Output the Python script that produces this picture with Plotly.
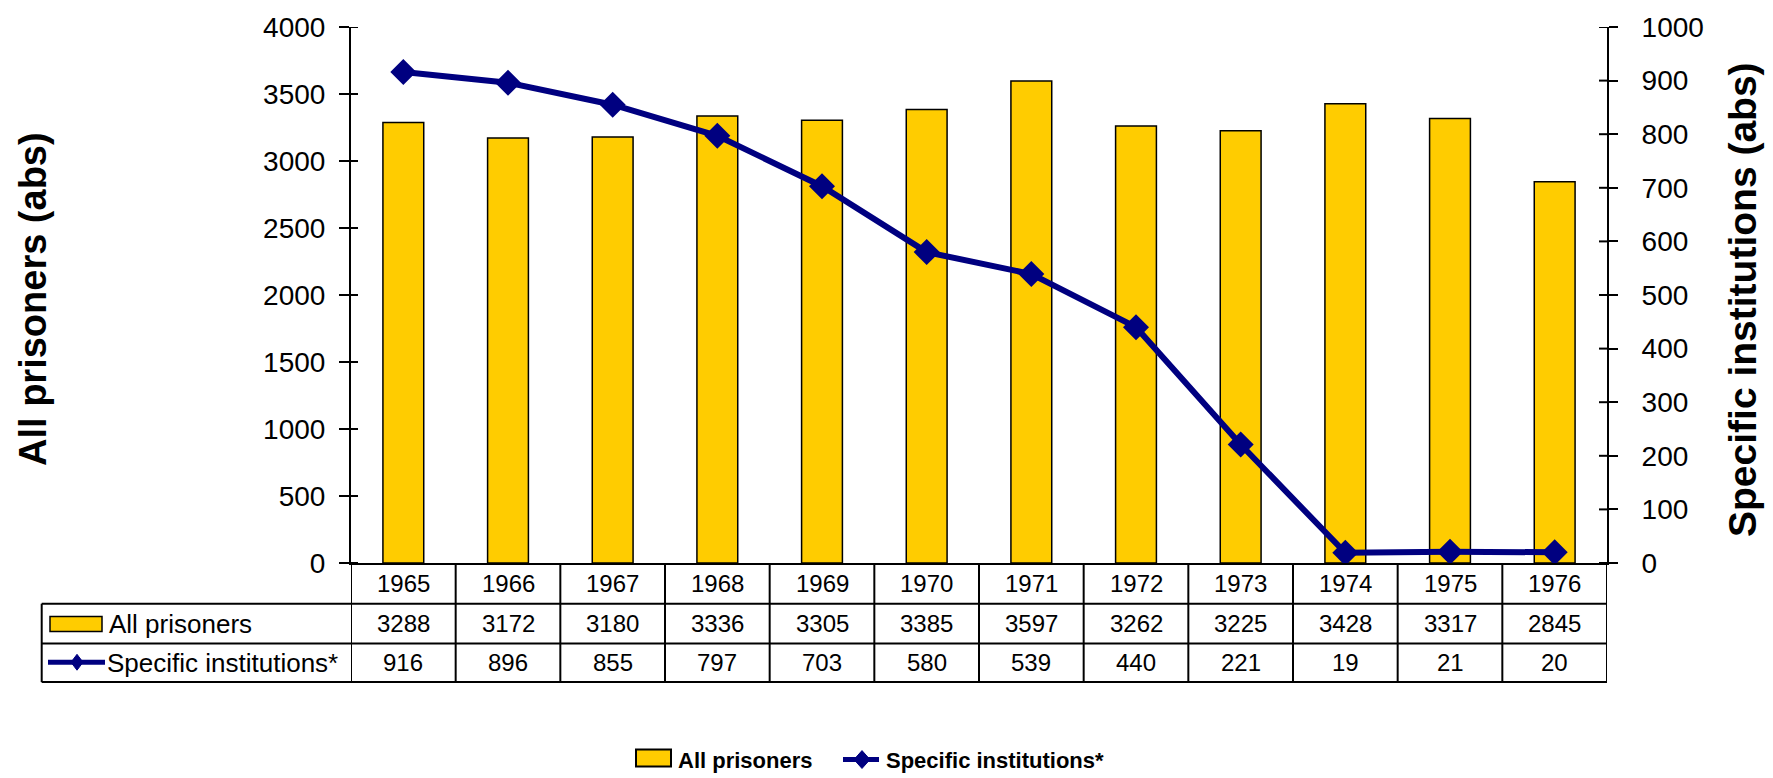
import plotly.graph_objects as go

years = ["1965", "1966", "1967", "1968", "1969", "1970", "1971", "1972", "1973", "1974", "1975", "1976"]
all_prisoners = [3288, 3172, 3180, 3336, 3305, 3385, 3597, 3262, 3225, 3428, 3317, 2845]
specific_inst = [916, 896, 855, 797, 703, 580, 539, 440, 221, 19, 21, 20]
left_ticks = [0, 500, 1000, 1500, 2000, 2500, 3000, 3500, 4000]
right_ticks = [0, 100, 200, 300, 400, 500, 600, 700, 800, 900, 1000]
series_names = ["All prisoners", "Specific institutions*"]
left_title = "All prisoners (abs)"
right_title = "Specific institutions (abs)"

FW, FH = 1773, 778
L, T, W, H = 351, 23, 1256, 540
FONT = "Arial, Liberation Sans, sans-serif"
YELLOW = "#FFCC00"
NAVY = "#000080"


def px(p):
    return (p - L) / W


def py(p):
    return (T + H - p) / H


fig = go.Figure()
fig.add_trace(go.Bar(
    x=years, y=all_prisoners, name=series_names[0], width=0.39,
    marker=dict(color=YELLOW, line=dict(color="black", width=1.5)),
    yaxis="y",
))
fig.add_trace(go.Scatter(
    x=years, y=specific_inst, name=series_names[1], mode="lines+markers",
    line=dict(color=NAVY, width=6),
    marker=dict(symbol="diamond", size=20, color=NAVY),
    yaxis="y2",
))

shapes = []
annotations = []
LW = 2

r0, r1, r2, r3 = 563, 604, 644, 683
lab_left = 41.7

for yy in (r1, r2, r3):
    shapes.append(dict(type="line", xref="paper", yref="paper",
                       x0=px(lab_left), x1=1, y0=py(yy), y1=py(yy),
                       line=dict(color="black", width=LW)))
shapes.append(dict(type="line", xref="paper", yref="paper",
                   x0=px(lab_left), x1=px(lab_left), y0=py(r1), y1=py(r3),
                   line=dict(color="black", width=LW)))
n = len(years)
for i in range(n + 1):
    shapes.append(dict(type="line", xref="x", yref="paper",
                       x0=i - 0.5, x1=i - 0.5, y0=py(r0), y1=py(r3),
                       line=dict(color="black", width=LW)))


def txt(x, y, s, xref="x", size=24, xanchor="center", bold=False, angle=0):
    f = dict(size=size, color="black", family=FONT)
    if bold:
        f["weight"] = "bold"
    return dict(x=x, y=y, xref=xref, yref="paper", text=s, showarrow=False,
                xanchor=xanchor, yanchor="middle", textangle=angle, font=f)


for i, yr in enumerate(years):
    annotations.append(txt(i, py((r0 + r1) / 2), yr))
    annotations.append(txt(i, py((r1 + r2) / 2), str(all_prisoners[i])))
    annotations.append(txt(i, py((r2 + r3) / 2), str(specific_inst[i])))

shapes.append(dict(type="rect", xref="paper", yref="paper",
                   x0=px(50), x1=px(102), y0=py(632), y1=py(617),
                   fillcolor=YELLOW, line=dict(color="black", width=1.5)))
annotations.append(txt(px(107), py((r1 + r2) / 2), series_names[0], xref="paper", size=26, xanchor="left"))
shapes.append(dict(type="line", xref="paper", yref="paper",
                   x0=px(48), x1=px(105), y0=py(663), y1=py(663),
                   line=dict(color=NAVY, width=5)))


def diamond(cx, cy, hw, hh):
    return (f"M {px(cx - hw)},{py(cy)} L {px(cx)},{py(cy - hh)} "
            f"L {px(cx + hw)},{py(cy)} L {px(cx)},{py(cy + hh)} Z")


shapes.append(dict(type="path", xref="paper", yref="paper", path=diamond(77, 663, 6, 8),
                   fillcolor=NAVY, line=dict(color=NAVY, width=1)))
annotations.append(txt(px(105), py((r2 + r3) / 2), series_names[1], xref="paper", size=26, xanchor="left"))

for v in left_ticks:
    shapes.append(dict(type="line", xref="paper", yref="y", x0=0, x1=px(L + 7),
                       y0=v, y1=v, line=dict(color="black", width=2)))
for v in right_ticks:
    shapes.append(dict(type="line", xref="paper", yref="y2", x0=px(L + W - 8), x1=1,
                       y0=v, y1=v, line=dict(color="black", width=2)))

annotations.append(txt(px(33), py(297), left_title, xref="paper", size=38, bold=True, angle=-90))
annotations.append(txt(px(1743), py(298), right_title, xref="paper", size=39, bold=True, angle=-90))

shapes.append(dict(type="rect", xref="paper", yref="paper",
                   x0=px(636), x1=px(671), y0=py(768), y1=py(751),
                   fillcolor=YELLOW, line=dict(color="black", width=2)))
annotations.append(txt(px(676), py(762), series_names[0], xref="paper", size=22, xanchor="left", bold=True))
shapes.append(dict(type="line", xref="paper", yref="paper",
                   x0=px(843), x1=px(879), y0=py(761), y1=py(761),
                   line=dict(color=NAVY, width=5)))
shapes.append(dict(type="path", xref="paper", yref="paper", path=diamond(862, 761, 8, 9),
                   fillcolor=NAVY, line=dict(color=NAVY, width=1)))
annotations.append(txt(px(884), py(762), series_names[1], xref="paper", size=22, xanchor="left", bold=True))

fig.update_layout(
    width=FW, height=FH,
    margin=dict(l=L, r=FW - L - W, t=T, b=FH - T - H, pad=0),
    paper_bgcolor="white", plot_bgcolor="white",
    showlegend=False,
    font=dict(family=FONT, color="black"),
    xaxis=dict(type="category", range=[-0.5, n - 0.5], showticklabels=False,
               showline=True, linecolor="black", linewidth=2, ticks="",
               showgrid=False, zeroline=False, fixedrange=True),
    yaxis=dict(range=[0, 4000], tickvals=left_ticks, showgrid=False, zeroline=False,
               showline=True, linecolor="black", linewidth=2,
               ticks="outside", ticklen=10, tickwidth=2, tickcolor="black",
               ticklabelstandoff=8,
               tickfont=dict(size=28, color="black", family=FONT)),
    yaxis2=dict(range=[0, 1000], tickvals=right_ticks, overlaying="y", side="right",
                showgrid=False, zeroline=False,
                showline=True, linecolor="black", linewidth=2,
                ticks="outside", ticklen=9, tickwidth=2, tickcolor="black",
                ticklabelstandoff=18,
                tickfont=dict(size=28, color="black", family=FONT)),
    shapes=shapes, annotations=annotations,
)

fig.write_html("out.html", config={"displayModeBar": False},
               post_script="document.body.style.margin='0';document.body.style.overflow='hidden';")
